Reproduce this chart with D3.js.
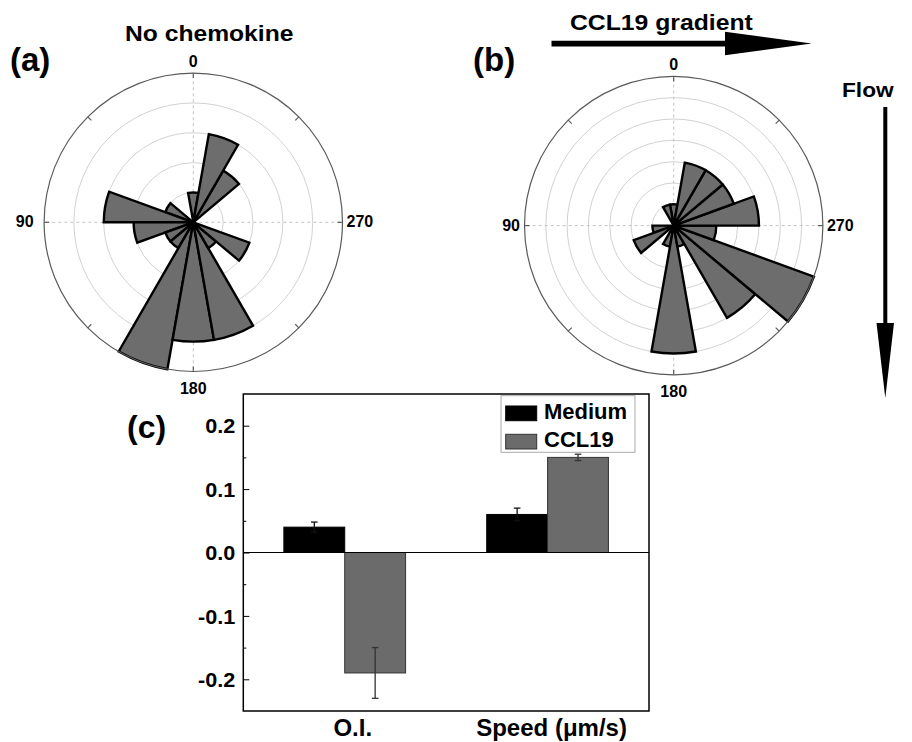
<!DOCTYPE html>
<html>
<head>
<meta charset="utf-8">
<script src="https://cdn.jsdelivr.net/npm/d3@7"></script>
<style>
body { margin: 0; background: #fff; }
svg text { font-family: "Liberation Sans", Arial, sans-serif; font-weight: bold; fill: #000; }
</style>
</head>
<body>
<svg id="fig" width="912" height="742"></svg>
<script>
// ---- rose data (counts per 20 degree bin, 0 = up, counter-clockwise) ----
var binCenters = [0, 20, 40, 60, 80, 100, 120, 140, 160, 180, 200, 220, 240, 260, 280, 300, 320, 340];
var countsNoChemokine = [1, 0, 0, 1, 3, 2, 1, 1, 5, 4, 4, 1, 2, 0, 0, 0, 2, 3];
var countsGradient    = [1, 1, 0, 0, 0, 1, 2, 0, 1, 6, 1, 5, 7, 2, 4, 3, 3, 3];
var axisAngles = [0, 90, 180, 270];
var axisLabels = ["0", "90", "180", "270"];

// ---- bar data ----
var groups = ["O.I.", "Speed (\u03bcm/s)"];
var seriesNames = ["Medium", "CCL19"];
var mediumVals = [0.04, 0.06];
var mediumErr  = [0.008, 0.01];
var ccl19Vals  = [-0.19, 0.15];
var ccl19Err   = [0.04, 0.005];
var yTicks = [-0.2, -0.1, 0.0, 0.1, 0.2];
var yMinorTicks = [-0.15, -0.05, 0.05, 0.15];

var svg = d3.select("#fig");
var rad = Math.PI / 180;

// stretch text horizontally (the figure's lettering is wide)
function widen(sel, k) {
  sel.each(function() {
    var w = this.getComputedTextLength();
    d3.select(this).attr("textLength", w * k).attr("lengthAdjust", "spacingAndGlyphs");
  });
}

function rose(cx, cy, R, counts, rmax, gap90) {
  var g = svg.append("g").attr("transform", "translate(" + cx + "," + cy + ")");
  var r = d3.scaleLinear().domain([0, rmax]).range([0, R]);
  var half = 180 / binCenters.length;

  g.selectAll("circle.ring")
    .data(d3.range(1, rmax))
    .enter().append("circle")
    .attr("class", "ring")
    .attr("r", function(d) { return r(d); })
    .style("fill", "none")
    .style("stroke", "#d2d2d2")
    .style("stroke-width", 1);

  g.selectAll("line.axis")
    .data(axisAngles)
    .enter().append("line")
    .attr("x1", 0).attr("y1", 0)
    .attr("x2", function(d) { return -R * Math.sin(d * rad); })
    .attr("y2", function(d) { return -R * Math.cos(d * rad); })
    .style("stroke", "#c4c4c4")
    .style("stroke-dasharray", "3,3");

  var arc = d3.arc()
    .innerRadius(0)
    .outerRadius(function(d) { return r(d.v); })
    .startAngle(function(d) { return -(d.a + half) * rad; })
    .endAngle(function(d) { return -(d.a - half) * rad; });

  var bins = binCenters.map(function(a, i) { return {a: a, v: counts[i]}; })
                       .filter(function(d) { return d.v > 0; });

  g.selectAll("path.wedge")
    .data(bins)
    .enter().append("path")
    .attr("class", "wedge")
    .attr("d", arc)
    .style("fill", "#6d6d6d")
    .style("stroke", "#000")
    .style("stroke-width", 2.4)
    .style("stroke-linejoin", "miter");

  g.append("circle")
    .attr("r", R)
    .style("fill", "none")
    .style("stroke", "#5a5a5a")
    .style("stroke-width", 1.2);

  g.selectAll("line.tick")
    .data(d3.range(0, 360, 45))
    .enter().append("line")
    .attr("x1", function(d) { return -R * Math.sin(d * rad); })
    .attr("y1", function(d) { return -R * Math.cos(d * rad); })
    .attr("x2", function(d) { return -(R - 5) * Math.sin(d * rad); })
    .attr("y2", function(d) { return -(R - 5) * Math.cos(d * rad); })
    .style("stroke", "#5a5a5a")
    .style("stroke-width", 1.2);

  // angle labels
  g.append("text").text(axisLabels[0]).attr("x", 0).attr("y", -R - 6.5)
    .attr("text-anchor", "middle").style("font-size", "16px");
  g.append("text").text(axisLabels[1]).attr("x", -R - gap90).attr("y", 5)
    .attr("text-anchor", "end").style("font-size", "16px");
  g.append("text").text(axisLabels[2]).attr("x", 0).attr("y", R + 22.6)
    .attr("text-anchor", "middle").style("font-size", "16px");
  g.append("text").text(axisLabels[3]).attr("x", R + 4).attr("y", 5)
    .attr("text-anchor", "start").style("font-size", "16px");
}

rose(193.3, 222.3, 149.2, countsNoChemokine, 5, 10.5);
rose(673.7, 225.6, 149.2, countsGradient, 7, 4.5);

// panel letters and titles
svg.append("text").text("(a)").attr("x", 10).attr("y", 71).style("font-size", "33px");
svg.append("text").text("(b)").attr("x", 473).attr("y", 71).style("font-size", "33px");
svg.append("text").text("(c)").attr("x", 127).attr("y", 438).style("font-size", "32px");

svg.append("text").text("No chemokine").attr("x", 125).attr("y", 40.5)
  .style("font-size", "22px").call(widen, 1.12);
svg.append("text").text("CCL19 gradient").attr("x", 570).attr("y", 30)
  .style("font-size", "21.5px").call(widen, 1.15);
svg.append("text").text("Flow").attr("x", 842).attr("y", 96.5)
  .style("font-size", "21px").call(widen, 1.08);

// horizontal gradient arrow
svg.append("path")
  .attr("d", "M551.5,40.8 L725,40.8 L725,31.7 L811.7,43.6 L725,55.3 L725,46.5 L551.5,46.5 Z")
  .style("fill", "#000");
// vertical flow arrow
svg.append("path")
  .attr("d", "M883.3,107 L887.3,107 L887.3,323 L894,323 L885.3,398 L876.5,323 L883.3,323 Z")
  .style("fill", "#000");

// ---- bar chart (c) ----
var plotL = 243.3, plotR = 649, plotT = 394, plotB = 711;
var x = d3.scaleLinear().domain([0.5, 2.5]).range([plotL, plotR]);
var y = d3.scaleLinear().domain([-0.25, 0.25]).range([plotB, plotT]);
var bw = 0.3;

var bars = [];
groups.forEach(function(gname, i) {
  bars.push({s: 0, i: i, v: mediumVals[i], e: mediumErr[i]});
  bars.push({s: 1, i: i, v: ccl19Vals[i], e: ccl19Err[i]});
});
var fills = ["#000", "#6b6b6b"];
var strokes = ["#000", "#333"];
var errColors = ["#111", "#333"];

var bc = svg.append("g");
bc.selectAll("rect.bar")
  .data(bars)
  .enter().append("rect")
  .attr("class", "bar")
  .attr("x", function(d) { return x(d.i + 1 + (d.s === 0 ? -bw : 0)); })
  .attr("width", x(bw) - x(0))
  .attr("y", function(d) { return y(Math.max(0, d.v)); })
  .attr("height", function(d) { return Math.abs(y(d.v) - y(0)); })
  .style("fill", function(d) { return fills[d.s]; })
  .style("stroke", function(d) { return strokes[d.s]; })
  .style("stroke-width", 1);

var eb = bc.selectAll("g.err")
  .data(bars)
  .enter().append("g")
  .attr("class", "err")
  .attr("transform", function(d) { return "translate(" + x(d.i + 1 + (d.s === 0 ? -bw / 2 : bw / 2)) + ",0)"; })
  .style("stroke", function(d) { return errColors[d.s]; })
  .style("stroke-width", 1.3);
eb.append("line")
  .attr("x1", 0).attr("x2", 0)
  .attr("y1", function(d) { return y(d.v - d.e); })
  .attr("y2", function(d) { return y(d.v + d.e); });
eb.selectAll("line.cap")
  .data(function(d) { return [d.v - d.e, d.v + d.e]; })
  .enter().append("line")
  .attr("class", "cap")
  .attr("x1", -3.3).attr("x2", 3.3)
  .attr("y1", function(v) { return y(v); })
  .attr("y2", function(v) { return y(v); });

// zero line
bc.append("line")
  .attr("x1", plotL).attr("x2", plotR)
  .attr("y1", y(0)).attr("y2", y(0))
  .style("stroke", "#000").style("stroke-width", 1);

// y axis, ticks pointing inward
var yAxis = bc.append("g")
  .attr("transform", "translate(" + plotL + ",0)")
  .call(d3.axisLeft(y).tickValues(yTicks).tickSize(-6).tickPadding(8)
          .tickFormat(function(d) { return d.toFixed(1); }));
yAxis.select(".domain").remove();
yAxis.selectAll("line").style("stroke", "#000").style("stroke-width", 1);
yAxis.selectAll("text")
  .style("font-size", "20px")
  .style("font-family", '"Liberation Sans", Arial, sans-serif')
  .style("font-weight", "bold")
  .attr("dy", "0.36em")
  .call(widen, 1.08);

var yMinor = bc.append("g")
  .attr("transform", "translate(" + plotL + ",0)")
  .call(d3.axisLeft(y).tickValues(yMinorTicks).tickSize(-3).tickFormat(""));
yMinor.select(".domain").remove();
yMinor.selectAll("line").style("stroke", "#000");

// frame
bc.append("rect")
  .attr("x", plotL).attr("y", plotT)
  .attr("width", plotR - plotL).attr("height", plotB - plotT)
  .style("fill", "none").style("stroke", "#000").style("stroke-width", 1.5);

// category labels
bc.selectAll("text.cat")
  .data(groups)
  .enter().append("text")
  .attr("class", "cat")
  .attr("x", function(d, i) { return x(i + 1) + [8, 4][i]; })
  .attr("y", 736)
  .attr("text-anchor", "middle")
  .style("font-size", "24px")
  .text(function(d) { return d; });

// legend
var lg = bc.append("g").attr("transform", "translate(501,395.7)");
lg.append("rect").attr("width", 134).attr("height", 56.6)
  .style("fill", "#fff").style("stroke", "#aaa").style("stroke-width", 1);
var li = lg.selectAll("g.item")
  .data(seriesNames)
  .enter().append("g")
  .attr("class", "item")
  .attr("transform", function(d, i) { return "translate(0," + (i * 28.3) + ")"; });
li.append("rect")
  .attr("x", 4.7).attr("y", 10.3).attr("width", 31).attr("height", 14.7)
  .style("fill", function(d, i) { return fills[i]; })
  .style("stroke", function(d, i) { return strokes[i]; });
li.append("text")
  .attr("x", 43).attr("y", 23.3)
  .style("font-size", "22px")
  .text(function(d) { return d; });
</script>
</body>
</html>
